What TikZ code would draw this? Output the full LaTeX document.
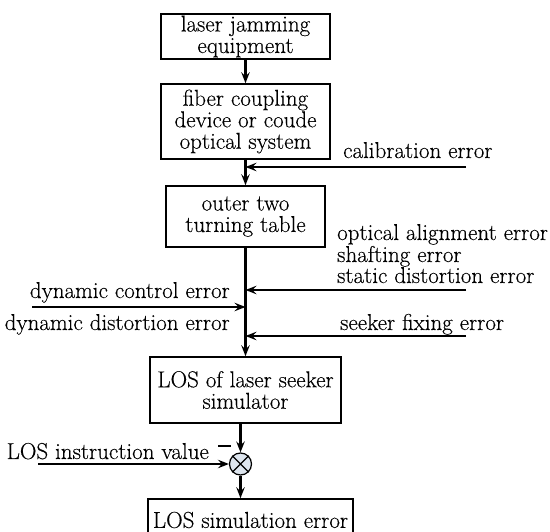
\documentclass[tikz,border=0pt]{standalone}
\usepackage{fontspec}
\setmainfont{Latin Modern Roman}[FakeBold=0.3]
\usetikzlibrary{arrows.meta}
\definecolor{sumfill}{HTML}{DDE5EE}
\begin{document}
\begin{tikzpicture}[x=1pt,y=-1pt,
  every node/.style={font=\fontsize{23}{21.5}\selectfont, inner sep=0pt},
  blk/.style={draw, line width=1.6pt, align=center},
  arr/.style={line width=2.2pt, -{Stealth[length=11pt,width=8.5pt,inset=4pt]}},
  lbl/.style={text=black}]
\useasboundingbox (0,0) rectangle (550,532);
\clip (0,0) rectangle (550,532);
% boxes
\node[blk, minimum width=169pt, minimum height=45pt] (b1) at (245.5,36.5) {laser jamming\\equipment};
\node[blk, minimum width=169pt, minimum height=75pt] (b2) at (245.5,121.5) {fiber coupling\\device or coude\\optical system};
\node[blk, minimum width=159pt, minimum height=61pt] (b3) at (245.5,216.5) {outer two\\turning table};
\node[blk, minimum width=191pt, minimum height=66pt] (b4) at (245.5,390) {LOS of laser seeker\\simulator};
\node[blk, minimum width=205pt, minimum height=42pt] (b5) at (250.5,520) {LOS simulation error};
\node[circle, draw, fill=sumfill, minimum size=22pt, line width=1.2pt] (s) at (240.5,464) {};
\draw[line width=1.2pt] (s.north west) -- (s.south east) (s.north east) -- (s.south west);
% main flow
\draw[arr] (b1.south) -- (b2.north);
\draw[arr] (b2.south) -- (b3.north);
\draw[arr] (b3.south) -- (b4.north);
\draw[arr] (b4.south -| s.north) -- (s.north);
\draw[arr] (s.south) -- (s.south |- b5.north);
% error inputs
\coordinate (c1) at (466,167);
\coordinate (c2) at (466,290);
\coordinate (c3) at (32,307);
\coordinate (c4) at (466,336);
\coordinate (c5) at (38,464);
\draw[arr] (c1) -- (c1 -| b3.north);
\draw[arr] (c2) -- (c2 -| b3.south);
\draw[arr] (c3) -- (c3 -| b3.south);
\draw[arr] (c4) -- (c4 -| b3.south);
\draw[arr] (c5) -- (s.west);
% labels
\node[lbl, anchor=base west] (l1) at (343,158) {calibration error};
\node[lbl, anchor=base west] (l2) at (337,240) {optical alignment error};
\node[lbl, anchor=base west] (l3) at (337,262) {shafting error};
\node[lbl, anchor=base west] (l4) at (337,283) {static distortion error};
\node[lbl, anchor=base east] (l5) at (230,298) {dynamic control error};
\node[lbl, anchor=base east] (l6) at (230,330) {dynamic distortion error};
\node[lbl, anchor=base west] (l7) at (340,330) {seeker fixing error};
\node[lbl, anchor=base east] (l8) at (209,459) {LOS instruction value};
\draw[line width=1.2pt] (218,446) -- coordinate (m) (231,446);
\end{tikzpicture}
\end{document}
